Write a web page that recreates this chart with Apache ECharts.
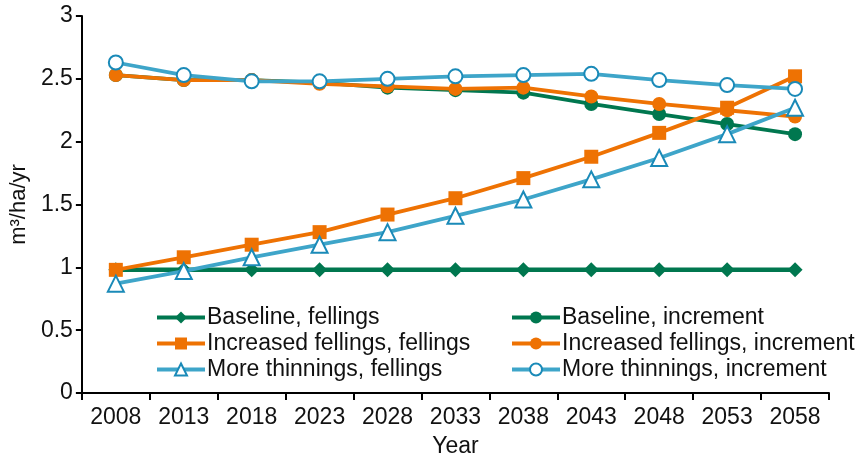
<!DOCTYPE html>
<html>
<head>
<meta charset="utf-8">
<script src="https://cdn.jsdelivr.net/npm/echarts@6/dist/echarts.min.js"></script>
<style>html,body{margin:0;padding:0;background:#fff}#c{width:867px;height:463px}</style>
</head>
<body>
<div id="c"></div>
<script>
const years = ['2008','2013','2018','2023','2028','2033','2038','2043','2048','2053','2058'];
const baselineFellings = [0.98,0.98,0.98,0.98,0.98,0.98,0.98,0.98,0.98,0.98,0.98];
const baselineIncrement = [2.53,2.49,2.49,2.47,2.43,2.41,2.39,2.30,2.22,2.14,2.06];
const increasedFellings = [0.98,1.08,1.18,1.28,1.42,1.55,1.71,1.88,2.07,2.27,2.52];
const increasedIncrement = [2.53,2.49,2.49,2.46,2.44,2.42,2.43,2.36,2.30,2.25,2.20];
const thinningsFellings = [0.87,0.97,1.08,1.18,1.28,1.41,1.54,1.70,1.87,2.06,2.27];
const thinningsIncrement = [2.63,2.53,2.48,2.48,2.50,2.52,2.53,2.54,2.49,2.45,2.42];
const yTicks = {min:0, max:3, interval:0.5};

const GREEN = '#00774f', ORANGE = '#ee7203', BLUE = '#3ea5c9', BLUE_M = '#1a8ab8';
const FONT = 'Liberation Sans, Arial, sans-serif';

function ser(name, data, color, symbol, opts) {
  opts = opts || {};
  return {
    name, type: 'line', data,
    symbol, symbolSize: opts.size || 14,
    lineStyle: {color, width: opts.lw || 3.8},
    itemStyle: opts.open ? {color: '#fff', borderColor: opts.mcolor || color, borderWidth: 2}
                         : {color: color, borderWidth: 0},
    color: color,
    emphasis: {disabled: true},
    z: opts.z || 2
  };
}

const legendText = {fontSize: 23, color: '#111', fontFamily: FONT, padding: [0,0,0,-3]};
const legendLine = {width: 4};
const chart = echarts.init(document.getElementById('c'), null, {renderer: 'canvas'});
chart.setOption({
  animation: false,
  textStyle: {fontFamily: FONT},
  grid: {left: 75, right: 38, top: 16, bottom: 67},
  legend: [
    {
      data: ['Baseline, fellings', 'Increased fellings, fellings', 'More thinnings, fellings'],
      orient: 'vertical', left: 150, top: 301,
      itemWidth: 48, itemHeight: 15, itemGap: 3,
      textStyle: legendText, lineStyle: legendLine,
      selectedMode: false
    },
    {
      data: ['Baseline, increment', 'Increased fellings, increment', 'More thinnings, increment'],
      orient: 'vertical', left: 505, top: 301,
      itemWidth: 48, itemHeight: 15, itemGap: 3,
      textStyle: legendText, lineStyle: legendLine,
      selectedMode: false
    }
  ],
  xAxis: {
    type: 'category', data: years, boundaryGap: true,
    name: 'Year', nameLocation: 'middle', nameGap: 42,
    nameTextStyle: {fontSize: 23, color: '#111', fontFamily: FONT},
    axisLine: {lineStyle: {color: '#000', width: 2}},
    axisTick: {show: true, length: 7, lineStyle: {color: '#000', width: 2}},
    axisLabel: {fontSize: 23, color: '#111', margin: 13, fontFamily: FONT, interval: 0}
  },
  yAxis: {
    type: 'value', min: yTicks.min, max: yTicks.max, interval: yTicks.interval,
    name: 'm³/ha/yr', nameLocation: 'middle', nameGap: 41, nameRotate: 90,
    nameTextStyle: {fontSize: 22, color: '#111', fontFamily: FONT},
    axisLine: {show: true, lineStyle: {color: '#000', width: 2}},
    axisTick: {show: true, length: 6, lineStyle: {color: '#000', width: 2}},
    axisLabel: {fontSize: 23, color: '#111', margin: 9, fontFamily: FONT},
    splitLine: {show: false}
  },
  series: [
    ser('Baseline, fellings', baselineFellings, GREEN, 'diamond', {size: 15, z: 2, lw: 4.5}),
    ser('Baseline, increment', baselineIncrement, GREEN, 'circle', {size: 14, z: 2}),
    ser('Increased fellings, fellings', increasedFellings, ORANGE, 'rect', {size: 14, z: 3}),
    ser('Increased fellings, increment', increasedIncrement, ORANGE, 'circle', {size: 14, z: 3}),
    ser('More thinnings, fellings', thinningsFellings, BLUE, 'triangle', {size: 16, open: true, mcolor: BLUE_M, z: 4}),
    ser('More thinnings, increment', thinningsIncrement, BLUE, 'circle', {size: 14, open: true, mcolor: BLUE_M, z: 4})
  ]
});
</script>
</body>
</html>
